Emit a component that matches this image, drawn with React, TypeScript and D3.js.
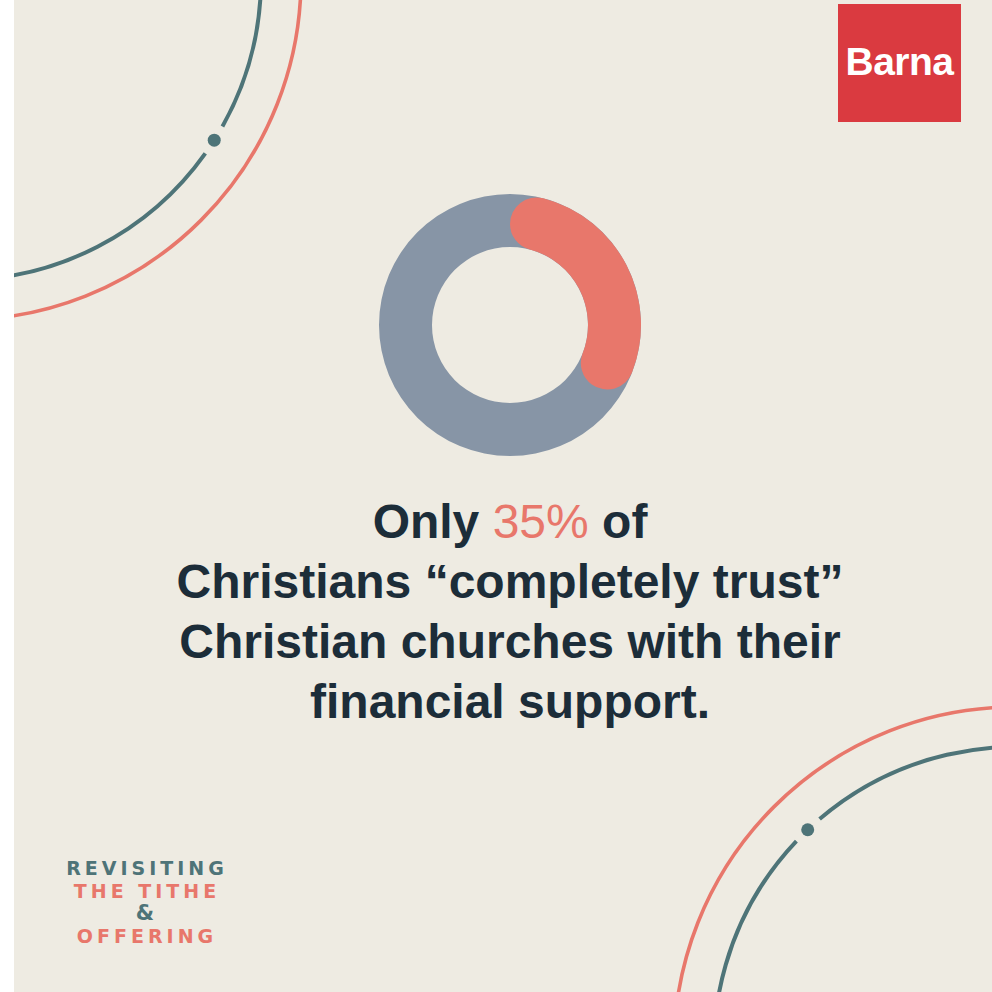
import React from "react";
import * as d3 from "d3";

// ---- Data ----
const segmentLabels = ["Completely trust", "Do not completely trust"];
const segmentValues = [35, 65];
const highlightValue = "35%";
const headlineFirst = ["Only ", highlightValue, " of"];
const headlineRest = [
  "Christians \u201Ccompletely trust\u201D",
  "Christian churches with their",
  "financial support.",
];
const brandName = "Barna";
const seriesTitle = ["REVISITING", "THE TITHE", "&", "OFFERING"];

// ---- Styles ----
const W = 992;
const H = 992;
const BG = "#eeebe2";
const TEAL = "#4e7478";
const CORAL = "#e8776b";
const RING = "#8795a6";
const DARK = "#1c2d39";
const BRAND = "#da3a40";
const FONT = "'Liberation Sans', Arial, Helvetica, sans-serif";

function decoArc(cx: number, cy: number, r: number, gapAngle: number | null, gapHalf: number) {
  const p = d3.path();
  if (gapAngle === null) {
    p.arc(cx, cy, r, 0, Math.PI * 2);
  } else {
    p.arc(cx, cy, r, gapAngle + gapHalf, gapAngle + Math.PI * 2 - gapHalf);
  }
  return p.toString();
}

export default function App() {
  const cx = 510;
  const cy = 325;
  const rOuter = 131;
  const rInner = 78;

  const pie = d3
    .pie<number>()
    .sort(null)
    .startAngle(0)
    .endAngle(Math.PI * 2)
    .value((d) => d);
  const arcs = pie(segmentValues);

  const ringArc = d3
    .arc<any>()
    .innerRadius(rInner)
    .outerRadius(rOuter)
    .startAngle(0)
    .endAngle(Math.PI * 2);

  const segArc = d3
    .arc<d3.PieArcDatum<number>>()
    .innerRadius(rInner)
    .outerRadius(rOuter)
    .cornerRadius((rOuter - rInner) / 2);

  // decorative circles
  const tl = { cx: -40, cy: -21 };
  const br = { cx: 1015, cy: 1048 };
  const tlDot = Math.atan2(140 - tl.cy, 214 - tl.cx);
  const brDot = Math.atan2(829 - br.cy, 807 - br.cx);
  const rTeal = 301;
  const rCoral = 341;
  const gapHalf = 16 / rTeal;

  const lineY = [538, 598, 658, 718];
  const titleY = [875, 898, 920, 943];
  const titleColors = [TEAL, CORAL, TEAL, CORAL];
  const titleSizes = [19, 19, 21, 19];
  const titleSpacing = [4, 4, 0, 4];

  return (
    <svg
      width={W}
      height={H}
      viewBox={`0 0 ${W} ${H}`}
      style={{ position: "fixed", left: 0, top: 0, display: "block", background: "#ffffff" }}
    >
      <defs>
        <clipPath id="panel">
          <rect x={14} y={0} width={W - 14} height={H} />
        </clipPath>
      </defs>
      <rect x={14} y={0} width={W - 14} height={H} fill={BG} />

      <g clipPath="url(#panel)" fill="none">
        <path d={decoArc(tl.cx, tl.cy, rCoral, null, 0)} stroke={CORAL} strokeWidth={3.6} />
        <path d={decoArc(tl.cx, tl.cy, rTeal, tlDot, gapHalf)} stroke={TEAL} strokeWidth={4} />
        <circle
          cx={tl.cx + rTeal * Math.cos(tlDot)}
          cy={tl.cy + rTeal * Math.sin(tlDot)}
          r={6.5}
          fill={TEAL}
        />
        <path d={decoArc(br.cx, br.cy, rCoral, null, 0)} stroke={CORAL} strokeWidth={3.6} />
        <path d={decoArc(br.cx, br.cy, rTeal, brDot, gapHalf)} stroke={TEAL} strokeWidth={4} />
        <circle
          cx={br.cx + rTeal * Math.cos(brDot)}
          cy={br.cy + rTeal * Math.sin(brDot)}
          r={6.5}
          fill={TEAL}
        />
      </g>

      {/* Brand */}
      <rect x={838} y={4} width={123} height={118} fill={BRAND} />
      <text
        x={899.5}
        y={75}
        textAnchor="middle"
        fontFamily={FONT}
        fontWeight="bold"
        fontSize={39}
        fill="#ffffff"
        letterSpacing={-0.5}
      >
        {brandName}
      </text>

      {/* Donut */}
      <g transform={`translate(${cx},${cy})`}>
        <path d={ringArc({}) as string} fill={RING} />
        <path d={segArc(arcs[0]) as string} fill={CORAL} />
      </g>

      {/* Headline */}
      <g fontFamily={FONT} fontWeight="bold" fontSize={48} fill={DARK} textAnchor="middle">
        <text x={510} y={lineY[0]}>
          <tspan>{headlineFirst[0]}</tspan>
          <tspan fill={CORAL} fontWeight="normal">{headlineFirst[1]}</tspan>
          <tspan>{headlineFirst[2]}</tspan>
        </text>
        {headlineRest.map((t, i) => (
          <text key={i} x={510} y={lineY[i + 1]}>
            {t}
          </text>
        ))}
      </g>

      {/* Series title */}
      <g fontFamily="'DejaVu Sans', sans-serif" fontWeight="bold" textAnchor="middle">
        {seriesTitle.map((t, i) => (
          <text
            key={i}
            x={145 + titleSpacing[i] / 2}
            y={titleY[i]}
            fontSize={titleSizes[i]}
            fill={titleColors[i]}
            letterSpacing={titleSpacing[i]}
          >
            {t}
          </text>
        ))}
      </g>
    </svg>
  );
}
